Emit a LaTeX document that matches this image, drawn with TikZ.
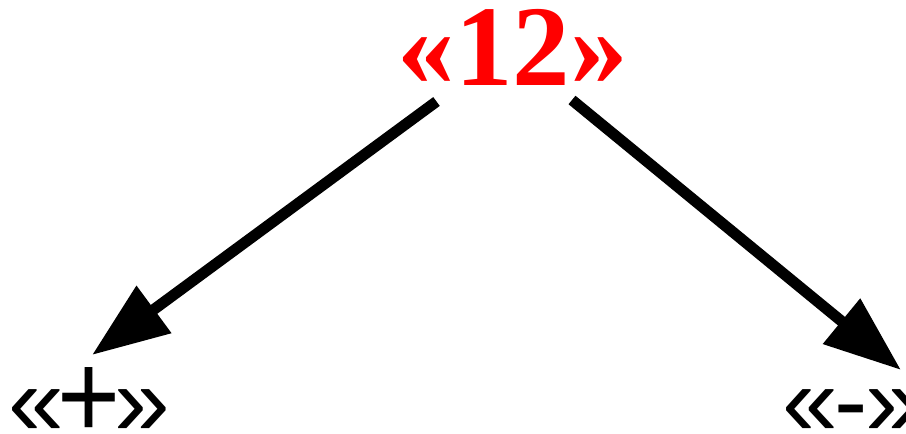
\documentclass[tikz,border=0pt]{standalone}
\usepackage{fontspec}
\setmainfont{Liberation Serif}
\newfontfamily\labfont{Liberation Sans}
\usetikzlibrary{arrows.meta}
\newcommand{\bigplus}{\kern-6pt\raisebox{-3pt}{\scalebox{1.08}[1.23]{+}}\kern-6pt}
\tikzset{
  conn/.style={line width=11pt, -{Triangle[length=77pt,width=56pt]}},
  toptext/.style={text=red, font=\fontsize{115}{115}\selectfont\bfseries, inner sep=0pt, anchor=base},
  labtext/.style={text=black, font=\labfont\fontsize{100}{100}\selectfont, inner sep=0pt, anchor=base west}
}
\begin{document}
\begin{tikzpicture}[x=1pt,y=-1pt]
\useasboundingbox (0,0) rectangle (906,434);
\node[toptext] (top) at (512.5,85) {«12»};
\node[labtext] (plus) at (8,435) {«\bigplus»};
\node[labtext] (minus) at (782,435) {«\kern-3pt-\kern-3pt»};
\coordinate (ls) at (436.5,101.5);
\coordinate (lt) at (92,355);
\coordinate (rs) at (572,100);
\coordinate (rt) at (901,370);
\draw[conn] (ls) -- (lt);
\draw[conn] (rs) -- (rt);
\end{tikzpicture}
\end{document}
